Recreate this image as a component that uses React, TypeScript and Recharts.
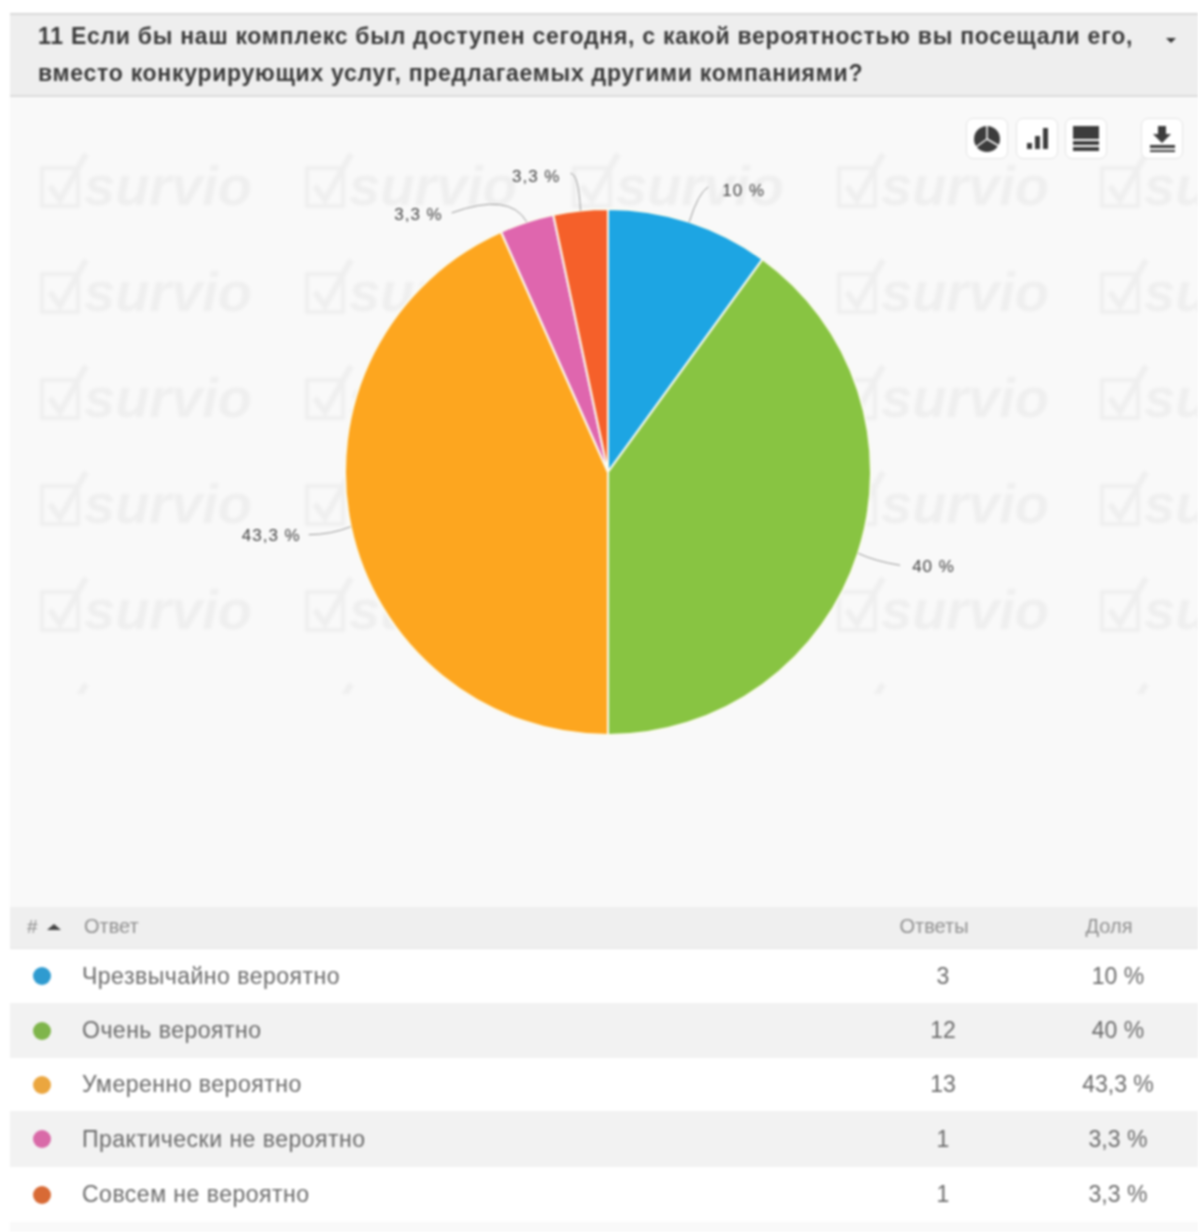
// Survio question result: pie chart + answer table
import { PieChart, Pie, Cell } from "recharts";

const QUESTION_LINE_1 =
  "11 Если бы наш комплекс был доступен сегодня, с какой вероятностью вы посещали его,";
const QUESTION_LINE_2 =
  "вместо конкурирующих услуг, предлагаемых другими компаниями?";

const ANSWERS = [
  "Чрезвычайно вероятно",
  "Очень вероятно",
  "Умеренно вероятно",
  "Практически не вероятно",
  "Совсем не вероятно",
];
const COUNTS = [3, 12, 13, 1, 1];
const SHARES = ["10 %", "40 %", "43,3 %", "3,3 %", "3,3 %"];
const TABLE_HEADERS = ["Ответ", "Ответы", "Доля"];

const SLICE_COLORS = ["#1da5e3", "#88c442", "#fda61f", "#df66ae", "#f5602a"];
const DOT_COLORS = ["#2f9bd0", "#7fb54b", "#eba63f", "#d96aa8", "#d86a35"];

// leader shape, relative to the point on the rim: ctrl, end, text offset
const LEADERS = [
  { cx: 9, cy: -29, ex: 19, ey: -35, tx: 33, ty: -31, anchor: "start" },
  { cx: 17, cy: 8, ex: 42, ey: 12, tx: 54, ty: 13, anchor: "start" },
  { cx: -20, cy: 8, ex: -42, ey: 8, tx: -50, ty: 9, anchor: "end" },
  { cx: -17, cy: -30, ex: -75, ey: -9, tx: -84, ty: -7, anchor: "end" },
  { cx: -2, cy: -37, ex: -10, ey: -37, tx: -20, ty: -34, anchor: "end" },
];

const WATERMARK_X = [38, 303, 570, 835, 1098];
const WATERMARK_Y = [150, 256, 362, 468, 574];
const WATERMARK_CUT_Y = 680; // only the tip of the check shows on this row
const ROW_TOPS = [949, 1003, 1058, 1111, 1167];
const ROW_HEIGHTS = [54, 55, 53, 56, 55];

const chartData = ANSWERS.map((name, i) => ({ name, value: COUNTS[i] }));

const RAD = Math.PI / 180;

const renderLabel = (props: any) => {
  const { cx, cy, midAngle, outerRadius, index } = props;
  const x = cx + outerRadius * Math.cos(-midAngle * RAD);
  const y = cy + outerRadius * Math.sin(-midAngle * RAD);
  const l = LEADERS[index];
  return (
    <g key={`label-${index}`}>
      <path
        d={`M${x},${y} Q${x + l.cx},${y + l.cy} ${x + l.ex},${y + l.ey}`}
        fill="none"
        stroke="#999"
        strokeWidth={1}
      />
      <text
        x={x + l.tx}
        y={y + l.ty}
        textAnchor={l.anchor}
        dominantBaseline="central"
        fontSize={17}
        letterSpacing={1}
        fontFamily="'Liberation Sans', Arial, sans-serif"
        fill="#444"
      >
        {SHARES[index]}
      </text>
    </g>
  );
};

const IconButton = ({ left, children }: any) => (
  <div
    style={{
      position: "absolute",
      left,
      top: 118,
      width: 42,
      height: 41,
      boxSizing: "border-box",
      background: "#fff",
      border: "1px solid #e4e4e4",
      borderRadius: 7,
    }}
  >
    <svg width={40} height={39} viewBox="0 0 40 39" fill="#3c3c3c">
      {children}
    </svg>
  </div>
);

const CheckBox = () => (
  <svg width={56} height={62} style={{ position: "absolute", left: 0, top: 0 }}>
    <rect x={4} y={18} width={36} height={38} fill="none" stroke="#efefef" strokeWidth={4} />
    <path d="M12 36 L22 50 L48 4" fill="none" stroke="#efefef" strokeWidth={6} />
  </svg>
);

export default function App() {
  return (
    <div
      style={{
        position: "absolute",
        left: 0,
        top: 0,
        width: 1198,
        height: 1232,
        overflow: "hidden",
        background: "#fff",
        fontFamily: "'Liberation Sans', Arial, sans-serif",
        filter: "blur(0.8px)",
      }}
    >
      {/* panel */}
      <div style={{ position: "absolute", left: 10, top: 97, width: 1188, height: 1135, background: "#f9f9f9" }} />

      {/* title */}
      <div
        style={{
          position: "absolute",
          left: 10,
          top: 13,
          width: 1188,
          height: 84,
          boxSizing: "border-box",
          background: "#eeeeee",
          borderTop: "2px solid #d9d9d9",
          borderBottom: "2px solid #dcdcdc",
          color: "#3a3a3a",
          fontWeight: 700,
          fontSize: 23,
          letterSpacing: 0.73,
          lineHeight: "37px",
          paddingLeft: 28,
          paddingTop: 3,
          whiteSpace: "nowrap",
        }}
      >
        <div>{QUESTION_LINE_1}</div>
        <div>{QUESTION_LINE_2}</div>
      </div>
      <div
        style={{
          position: "absolute",
          left: 1166,
          top: 38,
          width: 0,
          height: 0,
          borderLeft: "5px solid transparent",
          borderRight: "5px solid transparent",
          borderTop: "5px solid #333",
        }}
      />

      {/* watermark */}
      <div style={{ position: "absolute", left: 0, top: 0, width: 1198, height: 694, overflow: "hidden", filter: "blur(1px)" }}>
        {WATERMARK_Y.map((y) =>
          WATERMARK_X.map((x) => (
            <div key={`${x}-${y}`} style={{ position: "absolute", left: x, top: y }}>
              <CheckBox />
              <div
                style={{
                  position: "absolute",
                  left: 46,
                  top: 0,
                  fontSize: 56,
                  lineHeight: "72px",
                  fontStyle: "italic",
                  fontWeight: 700,
                  color: "#efefef",
                  whiteSpace: "nowrap",
                }}
              >
                survio
              </div>
            </div>
          )),
        )}
        {WATERMARK_X.map((x) => (
          <div key={`cut-${x}`} style={{ position: "absolute", left: x, top: WATERMARK_CUT_Y }}>
            <CheckBox />
          </div>
        ))}
      </div>

      {/* toolbar */}
      <IconButton left={966}>
        <circle cx={20} cy={20} r={13} />
        <path d="M20 20 L20 6 M20 20 L32 27 M20 20 L9 28" stroke="#fff" strokeWidth={1.5} />
      </IconButton>
      <IconButton left={1016}>
        <rect x={10} y={24} width={5} height={6} />
        <rect x={18} y={17} width={5} height={13} />
        <rect x={26} y={9} width={5} height={21} />
      </IconButton>
      <IconButton left={1065}>
        <rect x={7} y={7} width={26} height={13} />
        <rect x={7} y={22} width={26} height={4} />
        <rect x={7} y={28} width={26} height={4} />
      </IconButton>
      <IconButton left={1141}>
        <path d="M16 7 H24 V15 H29 L20 24 L11 15 H16 Z" />
        <rect x={8} y={26} width={25} height={3} />
        <rect x={8} y={31} width={25} height={2} />
      </IconButton>

      {/* chart */}
      <div style={{ position: "absolute", left: 0, top: 0 }}>
        <PieChart width={1198} height={900} margin={{ top: 0, right: 0, bottom: 0, left: 0 }}>
          <Pie
            data={chartData}
            dataKey="value"
            nameKey="name"
            cx={608}
            cy={472}
            innerRadius={0}
            outerRadius={263}
            startAngle={90}
            endAngle={-270}
            stroke="#fbfbf0"
            strokeWidth={2}
            label={renderLabel}
            labelLine={false}
            isAnimationActive={false}
          >
            {chartData.map((entry, i) => (
              <Cell key={entry.name} fill={SLICE_COLORS[i]} />
            ))}
          </Pie>
        </PieChart>
      </div>

      {/* table header */}
      <div
        style={{
          position: "absolute",
          left: 10,
          top: 907,
          width: 1188,
          height: 42,
          background: "#efefef",
          borderBottom: "1px solid #e6e6e6",
          boxSizing: "border-box",
        }}
      />
      <div style={{ position: "absolute", left: 27, top: 916, fontSize: 19, color: "#8a8a8a" }}>#</div>
      <div
        style={{
          position: "absolute",
          left: 47,
          top: 924,
          width: 0,
          height: 0,
          borderLeft: "7px solid transparent",
          borderRight: "7px solid transparent",
          borderBottom: "6px solid #444",
        }}
      />
      <div style={{ position: "absolute", left: 84, top: 915, fontSize: 20, color: "#8f8f8f" }}>{TABLE_HEADERS[0]}</div>
      <div style={{ position: "absolute", left: 834, width: 200, textAlign: "center", top: 915, fontSize: 20, color: "#8f8f8f" }}>{TABLE_HEADERS[1]}</div>
      <div style={{ position: "absolute", left: 1009, width: 200, textAlign: "center", top: 915, fontSize: 20, color: "#8f8f8f" }}>{TABLE_HEADERS[2]}</div>

      {/* table rows */}
      {ANSWERS.map((answer, i) => (
        <div
          key={answer}
          style={{
            position: "absolute",
            left: 10,
            top: ROW_TOPS[i],
            width: 1188,
            height: ROW_HEIGHTS[i],
            background: i % 2 === 0 ? "#fff" : "#f2f2f2",
            color: "#6a6a6a",
            fontSize: 23,
            lineHeight: `${ROW_HEIGHTS[i]}px`,
          }}
        >
          <div
            style={{
              position: "absolute",
              left: 23,
              top: ROW_HEIGHTS[i] / 2 - 9,
              width: 18,
              height: 18,
              borderRadius: "50%",
              background: DOT_COLORS[i],
            }}
          />
          <div style={{ position: "absolute", left: 72, whiteSpace: "nowrap", letterSpacing: 0.5 }}>{answer}</div>
          <div style={{ position: "absolute", left: 833, width: 200, textAlign: "center" }}>{COUNTS[i]}</div>
          <div style={{ position: "absolute", left: 1008, width: 200, textAlign: "center" }}>{SHARES[i]}</div>
        </div>
      ))}
    </div>
  );
}
